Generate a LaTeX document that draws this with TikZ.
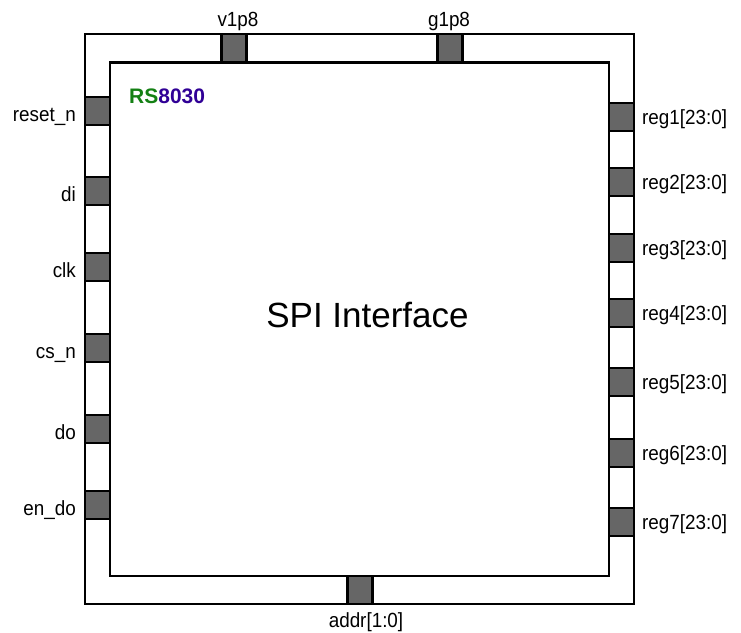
\documentclass[tikz,border=0pt]{standalone}
\usepackage{fontspec}
\setmainfont{Liberation Sans}
\definecolor{pingray}{RGB}{102,102,102}
\definecolor{rsgreen}{RGB}{20,128,20}
\definecolor{rsblue}{RGB}{48,0,150}
\newcommand{\narrowtxt}[1]{\scalebox{0.92}[1]{#1}}
\tikzset{
  box/.style={draw=black, line width=2.6pt, fill=white, inner sep=0pt},
  pinbox/.style={draw=black, line width=2.4pt, fill=pingray, inner sep=0pt, minimum width=25pt, minimum height=28pt},
  plabel/.style={inner sep=0pt, font=\fontsize{20.5}{23}\selectfont},
}
\begin{document}
\begin{tikzpicture}[x=1pt,y=-1pt]
\useasboundingbox (0,0) rectangle (741,632);
\fill[white] (0,0) rectangle (741,632);
% outer and inner boxes
\node[box, minimum width=549pt, minimum height=570pt] (outer) at (359.5,319) {};
\node[box, minimum width=499pt, minimum height=513.5pt] (inner) at (359.5,319.25) {};
% title texts
\node[inner sep=0pt, anchor=base west, font=\bfseries\fontsize{21}{24}\selectfont] (rs) at (129,103) {\textcolor{rsgreen}{RS}\textcolor{rsblue}{8030}};
\node[inner sep=0pt, anchor=base, font=\fontsize{35}{40}\selectfont] (title) at (367.5,327) {SPI Interface};
% left pins
\foreach \n/\y/\t in {p1/111/reset\_n, p2/191/di, p3/267/clk, p4/348/cs\_n, p5/429/do, p6/505/en\_do}{
  \node[pinbox] (\n) at (97.5,\y) {};
  \node[plabel, anchor=base east] (\n l) at (76,\y+10) {\narrowtxt{\t}};
}
% right pins
\foreach \n/\y/\t in {r1/117/reg1, r2/182/reg2, r3/248/reg3, r4/313/reg4, r5/382/reg5, r6/453/reg6, r7/522/reg7}{
  \node[pinbox] (\n) at (621.5,\y) {};
  \node[plabel, anchor=base west] (\n l) at (642,\y+7) {\narrowtxt{\t[23:0]}};
}
% top pins
\node[pinbox] (v) at (234,48) {};
\node[plabel, anchor=base] (vl) at (238,26) {\narrowtxt{v1p8}};
\node[pinbox] (g) at (450,48) {};
\node[plabel, anchor=base] (gl) at (449,26) {\narrowtxt{g1p8}};
% bottom pin
\node[pinbox] (a) at (360,590) {};
\node[plabel, anchor=base] (al) at (366,627) {\narrowtxt{addr[1:0]}};
\end{tikzpicture}
\end{document}
